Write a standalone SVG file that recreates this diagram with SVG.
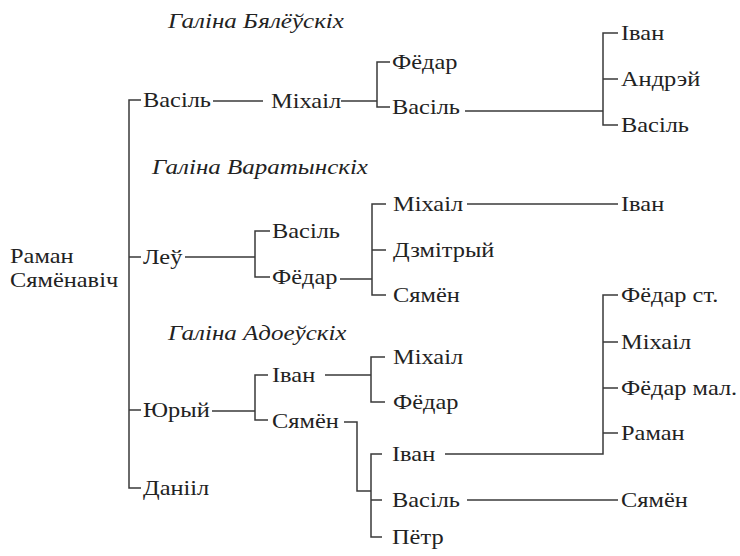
<svg xmlns="http://www.w3.org/2000/svg" width="740" height="556" viewBox="0 0 740 556">
  <rect width="740" height="556" fill="#fff"/>

  <!-- connectors: bracket ticks and joining lines -->
  <g id="connectors" fill="none" stroke="#3a3a3a" stroke-width="1.5">
    <path d="M141,100 H129 V488 H141 M129,257 H141 M129,410 H141"/>
    <path d="M213,101 H263"/>
    <path d="M341,101 H377 M390,62 H377 V107 H390"/>
    <path d="M465,111 H603 M618,33 H603 V125 H618 M603,79 H618"/>
    <path d="M185,257 H255 M270,231 H255 V277 H270"/>
    <path d="M340,279 H372 M386,204 H372 V295 H386 M372,250 H386"/>
    <path d="M467,204 H618"/>
    <path d="M212,411 H255 M268,375 H255 V420 H268"/>
    <path d="M325,375 H371 M385,357 H371 V402 H385"/>
    <path d="M344,422 H357 V491 H371 M382,454 H371 V537 H382 M371,500 H382"/>
    <path d="M445,454 H603 V295 H618 M603,342 H618 M603,388 H618 M603,433 H618"/>
    <path d="M467,500 H618"/>
  </g>

  <g font-size="20" fill="#222">
    <!-- wives -->
    <g id="wife-bialeuskix"><text font-family="Liberation Serif" font-style="italic" transform="translate(168,28) scale(1.25,1)">Галіна Бялёўскіх</text></g>
    <g id="wife-varatynskix"><text font-family="Liberation Serif" font-style="italic" transform="translate(152,174) scale(1.25,1)">Галіна Варатынскіх</text></g>
    <g id="wife-adoeuskix"><text font-family="Liberation Serif" font-style="italic" transform="translate(168,340) scale(1.25,1)">Галіна Адоеўскіх</text></g>

    <!-- root -->
    <g id="raman-root">
      <text font-family="Liberation Serif" transform="translate(10,263) scale(1.22,1)">Раман</text>
      <text font-family="Liberation Serif" transform="translate(10,287) scale(1.22,1)">Сямёнавіч</text>
    </g>

    <!-- generation 1 -->
    <g id="vasil-1"><text font-family="Liberation Serif" transform="translate(143,107) scale(1.22,1)">Васіль</text></g>
    <g id="leu"><text font-family="Liberation Serif" transform="translate(143,264) scale(1.22,1)">Леў</text></g>
    <g id="yury"><text font-family="Liberation Serif" transform="translate(143,417) scale(1.22,1)">Юрый</text></g>
    <g id="daniil"><text font-family="Liberation Serif" transform="translate(143,495) scale(1.22,1)">Данііл</text></g>

    <!-- Vasil branch -->
    <g id="mikhail-2a"><text font-family="Liberation Serif" transform="translate(271,108) scale(1.22,1)">Міхаіл</text></g>
    <g id="fiodar-3a"><text font-family="Liberation Serif" transform="translate(392,69) scale(1.22,1)">Фёдар</text></g>
    <g id="vasil-3a"><text font-family="Liberation Serif" transform="translate(392,114) scale(1.22,1)">Васіль</text></g>
    <g id="ivan-4a"><text font-family="Liberation Serif" transform="translate(621,40) scale(1.22,1)">Іван</text></g>
    <g id="andrei-4a"><text font-family="Liberation Serif" transform="translate(621,86) scale(1.22,1)">Андрэй</text></g>
    <g id="vasil-4a"><text font-family="Liberation Serif" transform="translate(621,132) scale(1.22,1)">Васіль</text></g>

    <!-- Leu branch -->
    <g id="vasil-2b"><text font-family="Liberation Serif" transform="translate(272,238) scale(1.22,1)">Васіль</text></g>
    <g id="fiodar-2b"><text font-family="Liberation Serif" transform="translate(272,284) scale(1.22,1)">Фёдар</text></g>
    <g id="mikhail-3b"><text font-family="Liberation Serif" transform="translate(393,211) scale(1.22,1)">Міхаіл</text></g>
    <g id="dzmitry-3b"><text font-family="Liberation Serif" transform="translate(393,257) scale(1.22,1)">Дзмітрый</text></g>
    <g id="siamion-3b"><text font-family="Liberation Serif" transform="translate(393,302) scale(1.22,1)">Сямён</text></g>
    <g id="ivan-4b"><text font-family="Liberation Serif" transform="translate(621,211) scale(1.22,1)">Іван</text></g>

    <!-- Yury branch -->
    <g id="ivan-2c"><text font-family="Liberation Serif" transform="translate(272,382) scale(1.22,1)">Іван</text></g>
    <g id="siamion-2c"><text font-family="Liberation Serif" transform="translate(272,428) scale(1.22,1)">Сямён</text></g>
    <g id="mikhail-3c"><text font-family="Liberation Serif" transform="translate(393,364) scale(1.22,1)">Міхаіл</text></g>
    <g id="fiodar-3c"><text font-family="Liberation Serif" transform="translate(393,409) scale(1.22,1)">Фёдар</text></g>
    <g id="ivan-3d"><text font-family="Liberation Serif" transform="translate(392,461) scale(1.22,1)">Іван</text></g>
    <g id="vasil-3d"><text font-family="Liberation Serif" transform="translate(392,507) scale(1.22,1)">Васіль</text></g>
    <g id="piotr-3d"><text font-family="Liberation Serif" transform="translate(392,544) scale(1.22,1)">Пётр</text></g>
    <g id="fiodar-st"><text font-family="Liberation Serif" transform="translate(621,302) scale(1.22,1)">Фёдар ст.</text></g>
    <g id="mikhail-4d"><text font-family="Liberation Serif" transform="translate(621,349) scale(1.22,1)">Міхаіл</text></g>
    <g id="fiodar-mal"><text font-family="Liberation Serif" transform="translate(621,395) scale(1.22,1)">Фёдар мал.</text></g>
    <g id="raman-4d"><text font-family="Liberation Serif" transform="translate(621,440) scale(1.22,1)">Раман</text></g>
    <g id="siamion-4d"><text font-family="Liberation Serif" transform="translate(621,507) scale(1.22,1)">Сямён</text></g>
  </g>
</svg>
